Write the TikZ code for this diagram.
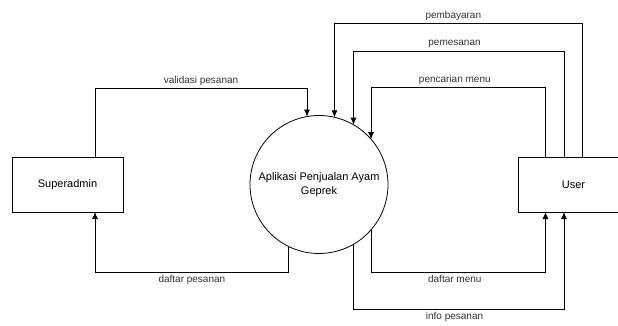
\documentclass[tikz,border=0pt]{standalone}
\usepackage{fontspec}
\setmainfont{Liberation Sans}
\usetikzlibrary{positioning,arrows.meta}

\begin{document}
\begin{tikzpicture}[x=1pt,y=-1pt,every node/.style={outer sep=0pt},
 line width=0.8pt,
 entity/.style={draw,minimum width=111pt,minimum height=55pt,
 font=\fontsize{11}{14}\selectfont},
 process/.style={draw,circle,minimum size=138pt,inner sep=2pt,align=center,
 font=\fontsize{11}{14}\selectfont},
 flow/.style={-{Latex[length=7pt,width=6pt]}},
 lbl/.style={text=black!80,font=\fontsize{10}{12}\selectfont}]

  \clip (0,0) rectangle (618,325);

  \node[entity] (superadmin) at (67.5,184.5) {Superadmin};
  \node[process,right=127pt of superadmin] (app) {Aplikasi Penjualan Ayam\\Geprek};
  \node[entity,right=130pt of app] (user) {User};

  \draw[flow] ([xshift=27.5pt]superadmin.north) |- ([yshift=28pt]app.100)
   node[lbl,pos=0.75,above]{validasi pesanan} -- (app.100);
  \draw[flow] (app.-116.7) |- ([xshift=27.5pt,yshift=-60pt]superadmin.south)
   node[lbl,pos=0.75,below]{daftar pesanan} -- ([xshift=27.5pt]superadmin.south);

  \draw[flow] ([xshift=8.5pt]user.north) |- ([yshift=93.6pt]app.77.4)
   node[lbl,pos=0.76,above]{pembayaran} -- (app.77.4);
  \draw[flow] ([xshift=-9.5pt]user.north) |- ([yshift=73.4pt]app.60.5)
   node[lbl,pos=0.76,above]{pemesanan} -- (app.60.5);
  \draw[flow] ([xshift=-28pt]user.north) |- ([yshift=51.4pt]app.41.1)
   node[lbl,pos=0.76,above]{pencarian menu} -- (app.41.1);

  \draw[flow] (app.-41.1) |- ([xshift=-28pt,yshift=-60pt]user.south)
   node[lbl,pos=0.74,below]{daftar menu} -- ([xshift=-28pt]user.south);
  \draw[flow] (app.-60.5) |- ([xshift=-9.5pt,yshift=-97pt]user.south)
   node[lbl,pos=0.74,below]{info pesanan} -- ([xshift=-9.5pt]user.south);

\end{tikzpicture}
\end{document}
